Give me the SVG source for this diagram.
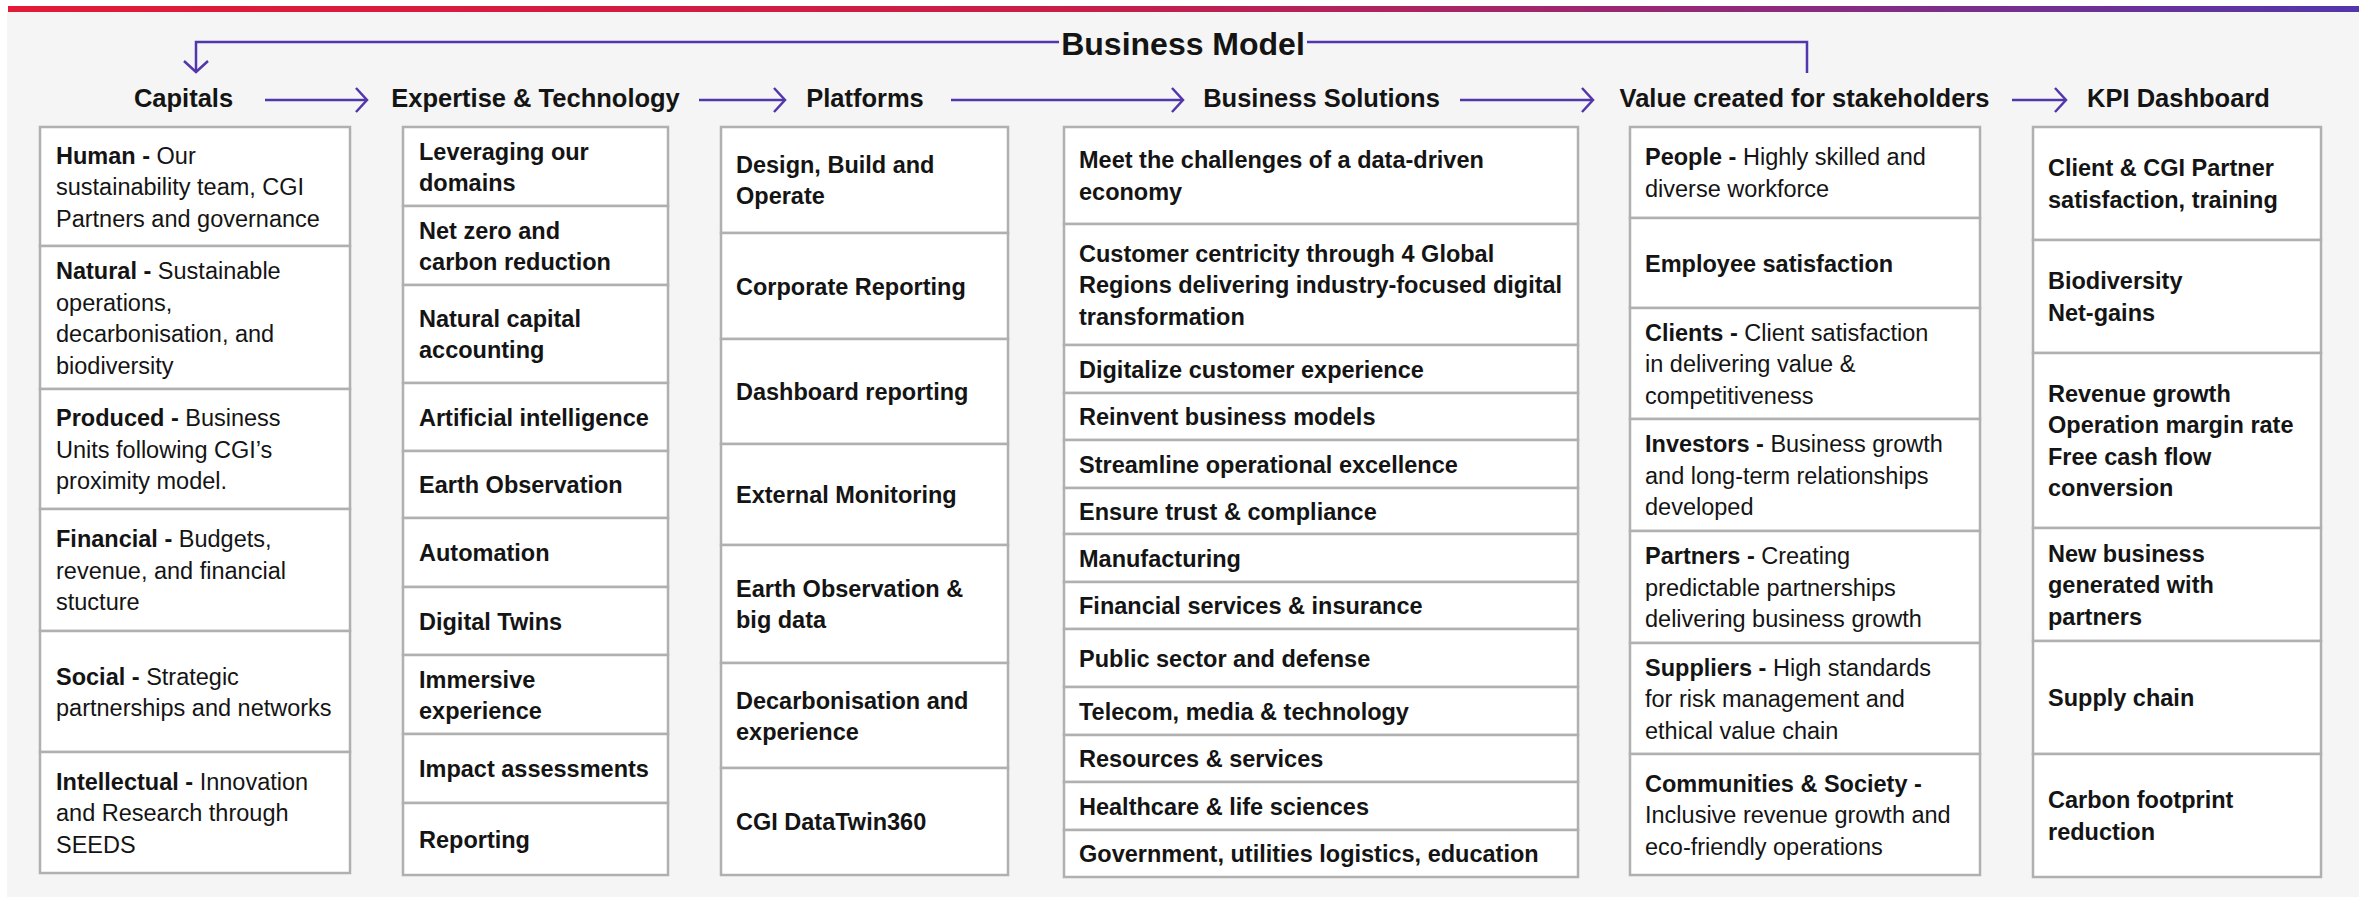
<svg xmlns="http://www.w3.org/2000/svg" width="2363" height="897" viewBox="0 0 2363 897">
<style>
text{font-family:"Liberation Sans",Arial,sans-serif;fill:#141414}
.title{font-size:32px;font-weight:700;text-anchor:middle}
.hd{font-size:25.5px;font-weight:700;text-anchor:middle}
.t{font-size:23.5px;font-weight:400}
.m{font-size:23.5px;font-weight:700}
.b{font-weight:700}
.cell{fill:#ffffff;stroke:#b0b0b0;stroke-width:2.5}
.flow{fill:none;stroke:#5236ab;stroke-width:2.5}
</style>
<defs>
<linearGradient id="bar" x1="0" y1="0" x2="1" y2="0">
<stop offset="0" stop-color="#e31937"/>
<stop offset="0.45" stop-color="#c81e48"/>
<stop offset="0.75" stop-color="#8e2a7c"/>
<stop offset="1" stop-color="#5236ab"/>
</linearGradient>
<marker id="chev" markerUnits="userSpaceOnUse" markerWidth="16" markerHeight="28" refX="12" refY="13" orient="auto">
<path d="M1,1 L12,13 L1,25" fill="none" stroke="#5236ab" stroke-width="2.5"/>
</marker>
</defs>
<rect x="0" y="0" width="2363" height="897" fill="#ffffff"/>
<rect x="7" y="12" width="2352" height="885" fill="#f5f5f5"/>
<rect x="8" y="6" width="2351" height="6" fill="url(#bar)"/>

<text class="title" x="1183" y="55">Business Model</text>

<g id="headers">
<text class="hd" x="183.5" y="107">Capitals</text>
<text class="hd" x="535.5" y="107">Expertise &amp; Technology</text>
<text class="hd" x="865" y="107">Platforms</text>
<text class="hd" x="1321.5" y="107">Business Solutions</text>
<text class="hd" x="1804.5" y="107">Value created for stakeholders</text>
<text class="hd" x="2178.5" y="107">KPI Dashboard</text>
</g>

<g id="connectors">
<path class="flow" d="M265,100 H367" marker-end="url(#chev)"/>
<path class="flow" d="M699,100 H785" marker-end="url(#chev)"/>
<path class="flow" d="M951,100 H1183" marker-end="url(#chev)"/>
<path class="flow" d="M1460,100 H1593" marker-end="url(#chev)"/>
<path class="flow" d="M2012,100 H2066" marker-end="url(#chev)"/>
<path class="flow" d="M1807,73 V42 H1307"/>
<path class="flow" d="M1059,42 H196 V72" marker-end="url(#chev)"/>
</g>

<g id="capitals">
<rect class="cell" x="40" y="127" width="310" height="119"/>
<rect class="cell" x="40" y="246" width="310" height="143"/>
<rect class="cell" x="40" y="389" width="310" height="120"/>
<rect class="cell" x="40" y="509" width="310" height="122"/>
<rect class="cell" x="40" y="631" width="310" height="121"/>
<rect class="cell" x="40" y="752" width="310" height="121"/>
<text class="t" x="56" y="163.5"><tspan class="b">Human - </tspan>Our</text>
<text class="t" x="56" y="195">sustainability team, CGI</text>
<text class="t" x="56" y="226.5">Partners and governance</text>
<text class="t" x="56" y="279"><tspan class="b">Natural - </tspan>Sustainable</text>
<text class="t" x="56" y="310.5">operations,</text>
<text class="t" x="56" y="342">decarbonisation, and</text>
<text class="t" x="56" y="373.5">biodiversity</text>
<text class="t" x="56" y="426"><tspan class="b">Produced - </tspan>Business</text>
<text class="t" x="56" y="457.5">Units following CGI’s</text>
<text class="t" x="56" y="489">proximity model.</text>
<text class="t" x="56" y="547"><tspan class="b">Financial - </tspan>Budgets,</text>
<text class="t" x="56" y="578.5">revenue, and financial</text>
<text class="t" x="56" y="610">stucture</text>
<text class="t" x="56" y="684.5"><tspan class="b">Social - </tspan>Strategic</text>
<text class="t" x="56" y="716">partnerships and networks</text>
<text class="t" x="56" y="789.5"><tspan class="b">Intellectual - </tspan>Innovation</text>
<text class="t" x="56" y="821">and Research through</text>
<text class="t" x="56" y="852.5">SEEDS</text>
</g>

<g id="expertise">
<rect class="cell" x="403" y="127" width="265" height="79"/>
<rect class="cell" x="403" y="206" width="265" height="79"/>
<rect class="cell" x="403" y="285" width="265" height="98"/>
<rect class="cell" x="403" y="383" width="265" height="68"/>
<rect class="cell" x="403" y="451" width="265" height="67"/>
<rect class="cell" x="403" y="518" width="265" height="69"/>
<rect class="cell" x="403" y="587" width="265" height="68"/>
<rect class="cell" x="403" y="655" width="265" height="79"/>
<rect class="cell" x="403" y="734" width="265" height="69"/>
<rect class="cell" x="403" y="803" width="265" height="72"/>
<text class="m" x="419" y="159.5">Leveraging our</text>
<text class="m" x="419" y="190.5">domains</text>
<text class="m" x="419" y="238.5">Net zero and</text>
<text class="m" x="419" y="269.5">carbon reduction</text>
<text class="m" x="419" y="327">Natural capital</text>
<text class="m" x="419" y="358">accounting</text>
<text class="m" x="419" y="425.5">Artificial intelligence</text>
<text class="m" x="419" y="493">Earth Observation</text>
<text class="m" x="419" y="561">Automation</text>
<text class="m" x="419" y="629.5">Digital Twins</text>
<text class="m" x="419" y="687.5">Immersive</text>
<text class="m" x="419" y="718.5">experience</text>
<text class="m" x="419" y="777">Impact assessments</text>
<text class="m" x="419" y="847.5">Reporting</text>
</g>

<g id="platforms">
<rect class="cell" x="721" y="127" width="287" height="106"/>
<rect class="cell" x="721" y="233" width="287" height="106"/>
<rect class="cell" x="721" y="339" width="287" height="105"/>
<rect class="cell" x="721" y="444" width="287" height="101"/>
<rect class="cell" x="721" y="545" width="287" height="118"/>
<rect class="cell" x="721" y="663" width="287" height="105"/>
<rect class="cell" x="721" y="768" width="287" height="107"/>
<text class="m" x="736" y="173">Design, Build and</text>
<text class="m" x="736" y="204">Operate</text>
<text class="m" x="736" y="294.5">Corporate Reporting</text>
<text class="m" x="736" y="400">Dashboard reporting</text>
<text class="m" x="736" y="503">External Monitoring</text>
<text class="m" x="736" y="597">Earth Observation &amp;</text>
<text class="m" x="736" y="628">big data</text>
<text class="m" x="736" y="708.5">Decarbonisation and</text>
<text class="m" x="736" y="739.5">experience</text>
<text class="m" x="736" y="830">CGI DataTwin360</text>
</g>

<g id="business-solutions">
<rect class="cell" x="1064" y="127" width="514" height="97"/>
<rect class="cell" x="1064" y="224" width="514" height="121"/>
<rect class="cell" x="1064" y="345" width="514" height="48"/>
<rect class="cell" x="1064" y="393" width="514" height="47"/>
<rect class="cell" x="1064" y="440" width="514" height="48"/>
<rect class="cell" x="1064" y="488" width="514" height="46"/>
<rect class="cell" x="1064" y="534" width="514" height="48"/>
<rect class="cell" x="1064" y="582" width="514" height="47"/>
<rect class="cell" x="1064" y="629" width="514" height="58"/>
<rect class="cell" x="1064" y="687" width="514" height="48"/>
<rect class="cell" x="1064" y="735" width="514" height="47"/>
<rect class="cell" x="1064" y="782" width="514" height="48"/>
<rect class="cell" x="1064" y="830" width="514" height="47"/>
<text class="m" x="1079" y="168.3">Meet the challenges of a data-driven</text>
<text class="m" x="1079" y="199.8">economy</text>
<text class="m" x="1079" y="261.5">Customer centricity through 4 Global</text>
<text class="m" x="1079" y="293">Regions delivering industry-focused digital</text>
<text class="m" x="1079" y="324.5">transformation</text>
<text class="m" x="1079" y="377.5">Digitalize customer experience</text>
<text class="m" x="1079" y="425">Reinvent business models</text>
<text class="m" x="1079" y="472.5">Streamline operational excellence</text>
<text class="m" x="1079" y="519.5">Ensure trust &amp; compliance</text>
<text class="m" x="1079" y="566.5">Manufacturing</text>
<text class="m" x="1079" y="614">Financial services &amp; insurance</text>
<text class="m" x="1079" y="666.5">Public sector and defense</text>
<text class="m" x="1079" y="719.5">Telecom, media &amp; technology</text>
<text class="m" x="1079" y="767">Resources &amp; services</text>
<text class="m" x="1079" y="814.5">Healthcare &amp; life sciences</text>
<text class="m" x="1079" y="862">Government, utilities logistics, education</text>
</g>

<g id="value-created">
<rect class="cell" x="1630" y="127" width="350" height="91"/>
<rect class="cell" x="1630" y="218" width="350" height="90"/>
<rect class="cell" x="1630" y="308" width="350" height="111"/>
<rect class="cell" x="1630" y="419" width="350" height="112"/>
<rect class="cell" x="1630" y="531" width="350" height="112"/>
<rect class="cell" x="1630" y="643" width="350" height="111"/>
<rect class="cell" x="1630" y="754" width="350" height="121"/>
<text class="t" x="1645" y="165.3"><tspan class="b">People - </tspan>Highly skilled and</text>
<text class="t" x="1645" y="196.8">diverse workforce</text>
<text class="m" x="1645" y="271.5">Employee satisfaction</text>
<text class="t" x="1645" y="340.5"><tspan class="b">Clients - </tspan>Client satisfaction</text>
<text class="t" x="1645" y="372">in delivering value &amp;</text>
<text class="t" x="1645" y="403.5">competitiveness</text>
<text class="t" x="1645" y="452"><tspan class="b">Investors - </tspan>Business growth</text>
<text class="t" x="1645" y="483.5">and long-term relationships</text>
<text class="t" x="1645" y="515">developed</text>
<text class="t" x="1645" y="564"><tspan class="b">Partners - </tspan>Creating</text>
<text class="t" x="1645" y="595.5">predictable partnerships</text>
<text class="t" x="1645" y="627">delivering business growth</text>
<text class="t" x="1645" y="675.5"><tspan class="b">Suppliers - </tspan>High standards</text>
<text class="t" x="1645" y="707">for risk management and</text>
<text class="t" x="1645" y="738.5">ethical value chain</text>
<text class="m" x="1645" y="791.5">Communities &amp; Society -</text>
<text class="t" x="1645" y="823">Inclusive revenue growth and</text>
<text class="t" x="1645" y="854.5">eco-friendly operations</text>
</g>

<g id="kpi-dashboard">
<rect class="cell" x="2033" y="127" width="288" height="113"/>
<rect class="cell" x="2033" y="240" width="288" height="113"/>
<rect class="cell" x="2033" y="353" width="288" height="175"/>
<rect class="cell" x="2033" y="528" width="288" height="113"/>
<rect class="cell" x="2033" y="641" width="288" height="113"/>
<rect class="cell" x="2033" y="754" width="288" height="123"/>
<text class="m" x="2048" y="176.3">Client &amp; CGI Partner</text>
<text class="m" x="2048" y="207.8">satisfaction, training</text>
<text class="m" x="2048" y="289.3">Biodiversity</text>
<text class="m" x="2048" y="320.8">Net-gains</text>
<text class="m" x="2048" y="401.8">Revenue growth</text>
<text class="m" x="2048" y="433.3">Operation margin rate</text>
<text class="m" x="2048" y="464.8">Free cash flow</text>
<text class="m" x="2048" y="496.3">conversion</text>
<text class="m" x="2048" y="561.5">New business</text>
<text class="m" x="2048" y="593">generated with</text>
<text class="m" x="2048" y="624.5">partners</text>
<text class="m" x="2048" y="706">Supply chain</text>
<text class="m" x="2048" y="808.3">Carbon footprint</text>
<text class="m" x="2048" y="839.8">reduction</text>
</g>
</svg>
